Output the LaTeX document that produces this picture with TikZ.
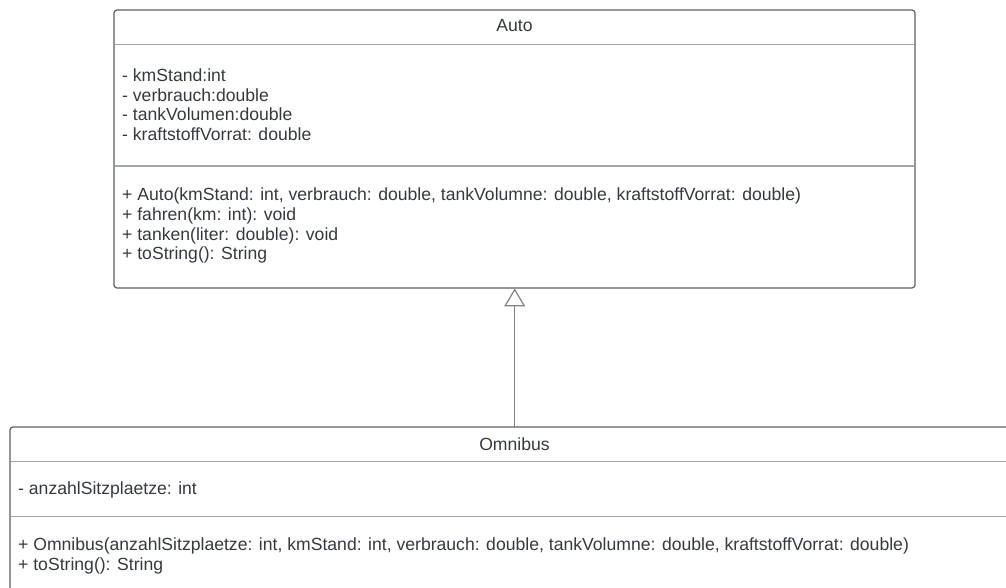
\documentclass[tikz,border=0pt]{standalone}
\usepackage{fontspec}
\setmainfont{Liberation Sans}
\usetikzlibrary{arrows.meta}
\definecolor{umlborder}{HTML}{5A5E66}
\definecolor{umlsep}{HTML}{A4A7AB}
\definecolor{umltext}{HTML}{363A40}
\definecolor{umlline}{HTML}{808388}
\tikzset{
  classbox/.style={draw=umlborder, line width=1.2pt, rounded corners=3pt, fill=white},
  sepline/.style={draw=umlsep, line width=1.6pt},
  txt/.style={text=umltext, font=\fontsize{17.6}{20}\selectfont, inner sep=0pt, anchor=base west},
  title/.style={text=umltext, font=\fontsize{17.6}{20}\selectfont, inner sep=0pt, anchor=base},
  inherit/.style={draw=umlline, line width=1.2pt, -{Triangle[open, length=18pt, width=21pt, line width=1.2pt]}}
}
\begin{document}
\begin{tikzpicture}[x=1pt, y=-1pt]
  \useasboundingbox (0,0) rectangle (1006,587);
  \clip (0,0) rectangle (1006,587);
  % class Auto
  \draw[classbox] (114,10) rectangle (915,288);
  \node[inner sep=0pt, minimum width=801pt, minimum height=278pt, anchor=north west] (auto) at (114,10) {};
  \draw[sepline] (114.6,44.5) -- (914.4,44.5);
  \draw[sepline] (114.6,166) -- (914.4,166);
  \node[title] (autoname) at (514.5,31) {Auto};
  \node[txt] (a1) at (122,81.5) {- kmStand:int};
  \node[txt] (a2) at (122,101.2) {- verbrauch:double};
  \node[txt] (a3) at (122,120.9) {- tankVolumen:double};
  \node[txt] (a4) at (122,140.6) {- kraftstoffVorrat: double};
  \node[txt] (m1) at (122,200.5) {+ Auto(kmStand: int, verbrauch: double, tankVolumne: double, kraftstoffVorrat: double)};
  \node[txt] (m2) at (122,220.3) {+ fahren(km: int): void};
  \node[txt] (m3) at (122,240.1) {+ tanken(liter: double): void};
  \node[txt] (m4) at (122,259.9) {+ toString(): String};
  % class Omnibus
  \draw[classbox] (10,427) rectangle (1019,640);
  \node[inner sep=0pt, minimum width=1009pt, minimum height=213pt, anchor=north west] (omnibus) at (10,427) {};
  \draw[sepline] (10.6,461.5) -- (1018.4,461.5);
  \draw[sepline] (10.6,516.5) -- (1018.4,516.5);
  \node[title] (omniname) at (514.5,450) {Omnibus};
  \node[txt] (o1) at (18,494.5) {- anzahlSitzplaetze: int};
  \node[txt] (o2) at (18,550.5) {+ Omnibus(anzahlSitzplaetze: int, kmStand: int, verbrauch: double, tankVolumne: double, kraftstoffVorrat: double)};
  \node[txt] (o3) at (18,570.3) {+ toString(): String};
  % generalisation
  \draw[inherit] (omnibus.north -| auto.south) -- (auto.south);
\end{tikzpicture}
\end{document}
